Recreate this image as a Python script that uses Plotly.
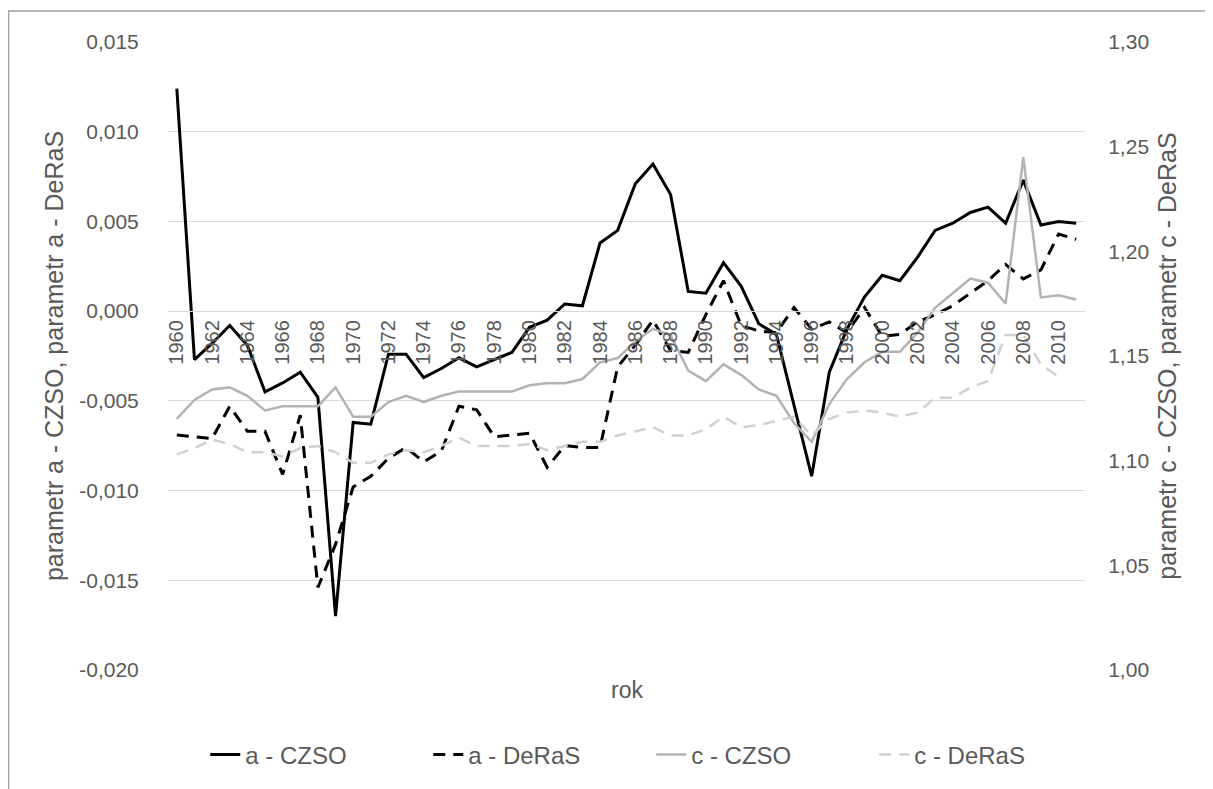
import plotly.graph_objects as go

years = [1960, 1961, 1962, 1963, 1964, 1965, 1966, 1967, 1968, 1969,
         1970, 1971, 1972, 1973, 1974, 1975, 1976, 1977, 1978, 1979,
         1980, 1981, 1982, 1983, 1984, 1985, 1986, 1987, 1988, 1989,
         1990, 1991, 1992, 1993, 1994, 1995, 1996, 1997, 1998, 1999,
         2000, 2001, 2002, 2003, 2004, 2005, 2006, 2007, 2008, 2009,
         2010, 2011]

a_czso = [0.0124, -0.0027, -0.0018, -0.0008, -0.0019, -0.0045, -0.0040, -0.0034, -0.0048, -0.0170,
          -0.0062, -0.0063, -0.0024, -0.0024, -0.0037, -0.0032, -0.0026, -0.0031, -0.0027, -0.0023,
          -0.0009, -0.0005, 0.0004, 0.0003, 0.0038, 0.0045, 0.0071, 0.0082, 0.0065, 0.0011,
          0.0010, 0.0027, 0.0014, -0.0007, -0.0013, -0.0053, -0.0092, -0.0034, -0.0010, 0.0008,
          0.0020, 0.0017, 0.0030, 0.0045, 0.0049, 0.0055, 0.0058, 0.0049, 0.0073, 0.0048,
          0.0050, 0.0049]

a_deras = [-0.0069, -0.0070, -0.0071, -0.0053, -0.0067, -0.0067, -0.0091, -0.0058, -0.0154, -0.0130,
           -0.0098, -0.0092, -0.0082, -0.0076, -0.0084, -0.0078, -0.0053, -0.0055, -0.0070, -0.0069,
           -0.0068, -0.0087, -0.0075, -0.0076, -0.0076, -0.0031, -0.0019, -0.0005, -0.0022, -0.0023,
           -0.0002, 0.0017, -0.0008, -0.0011, -0.0012, 0.0002, -0.0010, -0.0006, -0.0012, 0.0002,
           -0.0014, -0.0013, -0.0006, -0.0002, 0.0003, 0.0010, 0.0017, 0.0026, 0.0018, 0.0023,
           0.0043, 0.0040]

c_czso = [1.120, 1.129, 1.134, 1.135, 1.131, 1.124, 1.126, 1.126, 1.126, 1.135,
          1.121, 1.121, 1.128, 1.131, 1.128, 1.131, 1.133, 1.133, 1.133, 1.133,
          1.136, 1.137, 1.137, 1.139, 1.147, 1.149, 1.157, 1.163, 1.160, 1.143,
          1.138, 1.146, 1.141, 1.134, 1.131, 1.118, 1.109, 1.127, 1.139, 1.147,
          1.152, 1.152, 1.161, 1.173, 1.180, 1.187, 1.185, 1.175, 1.245, 1.178,
          1.179, 1.177]

c_deras = [1.103, 1.106, 1.110, 1.108, 1.104, 1.104, 1.102, 1.106, 1.107, 1.104,
           1.099, 1.099, 1.103, 1.105, 1.104, 1.107, 1.111, 1.107, 1.107, 1.107,
           1.108, 1.105, 1.107, 1.109, 1.109, 1.112, 1.114, 1.116, 1.112, 1.112,
           1.115, 1.121, 1.116, 1.117, 1.119, 1.121, 1.112, 1.120, 1.123, 1.124,
           1.123, 1.121, 1.123, 1.130, 1.130, 1.135, 1.138, 1.160, 1.160, 1.146,
           1.140, None]

series_names = ["a - CZSO", "a - DeRaS", "c - CZSO", "c - DeRaS"]
left_title = "parametr a - CZSO, parametr a - DeRaS"
right_title = "parametr c - CZSO, parametr c - DeRaS"
x_title = "rok"

left_tickvals = [-0.020, -0.015, -0.010, -0.005, 0.000, 0.005, 0.010, 0.015]
left_ticktext = ["-0,020", "-0,015", "-0,010", "-0,005", "0,000", "0,005", "0,010", "0,015"]
right_tickvals = [1.00, 1.05, 1.10, 1.15, 1.20, 1.25, 1.30]
right_ticktext = ["1,00", "1,05", "1,10", "1,15", "1,20", "1,25", "1,30"]

y_left_range = [-0.020, 0.015]
y_right_range = [1.00, 1.30]

FONT = "Liberation Sans, Arial, sans-serif"
TXT = "#595959"
GRID = "#d9d9d9"

fig = go.Figure()
fig.add_trace(go.Scatter(x=years, y=a_czso, name=series_names[0], mode="lines",
                         line=dict(color="#000000", width=3)))
fig.add_trace(go.Scatter(x=years, y=a_deras, name=series_names[1], mode="lines",
                         line=dict(color="#000000", width=3, dash="12px,8px")))
fig.add_trace(go.Scatter(x=years, y=c_czso, name=series_names[2], mode="lines", yaxis="y2",
                         line=dict(color="#b3b3b3", width=2.5)))
fig.add_trace(go.Scatter(x=years, y=c_deras, name=series_names[3], mode="lines", yaxis="y2",
                         line=dict(color="#d0d0d0", width=2.5, dash="12px,8px")))

# x axis crosses the left axis at 0
x_pos = (0 - y_left_range[0]) / (y_left_range[1] - y_left_range[0])

fig.update_layout(
    width=1205, height=781,
    margin=dict(l=160, r=128, t=34, b=119),
    paper_bgcolor="white", plot_bgcolor="white",
    separators=", ",
    font=dict(family=FONT, size=20, color=TXT),
    showlegend=True,
    legend=dict(orientation="h", x=0.527, xanchor="center", y=-0.135, yanchor="middle",
                font=dict(family=FONT, size=24, color=TXT),
                entrywidth=178, traceorder="normal"),
    xaxis=dict(range=[years[0] - 0.5, years[-1] + 0.5], tick0=1960, dtick=2,
               tickangle=-90, showgrid=False, zeroline=False,
               showline=True, linecolor=GRID, linewidth=1,
               anchor="free", position=x_pos,
               tickfont=dict(family=FONT, size=20, color=TXT)),
    yaxis=dict(range=y_left_range, tickvals=left_tickvals, ticktext=left_ticktext,
               showgrid=True, gridcolor=GRID, gridwidth=1, zeroline=False,
               ticks="outside", ticklen=24, tickcolor="rgba(0,0,0,0)",
               title=dict(text=left_title, font=dict(family=FONT, size=25, color=TXT), standoff=8),
               tickfont=dict(family=FONT, size=21, color=TXT)),
    yaxis2=dict(range=y_right_range, tickvals=right_tickvals, ticktext=right_ticktext,
                overlaying="y", side="right", anchor="x", showgrid=False, zeroline=False,
                ticks="outside", ticklen=18, tickcolor="rgba(0,0,0,0)",
                title=dict(text=right_title, font=dict(family=FONT, size=25, color=TXT), standoff=10),
                tickfont=dict(family=FONT, size=21, color=TXT)),
    annotations=[dict(text=x_title, xref="paper", yref="paper", x=0.5, y=-0.032,
                      xanchor="center", yanchor="middle", showarrow=False,
                      font=dict(family=FONT, size=23, color=TXT))],
    shapes=[dict(type="rect", xref="paper", yref="paper",
                 x0=-0.1739, x1=1.132, y0=-0.3, y1=1.0494,
                 line=dict(color="#a0a0a0", width=1.5), fillcolor="rgba(0,0,0,0)",
                 layer="below")],
)

fig.write_html("out.html")
